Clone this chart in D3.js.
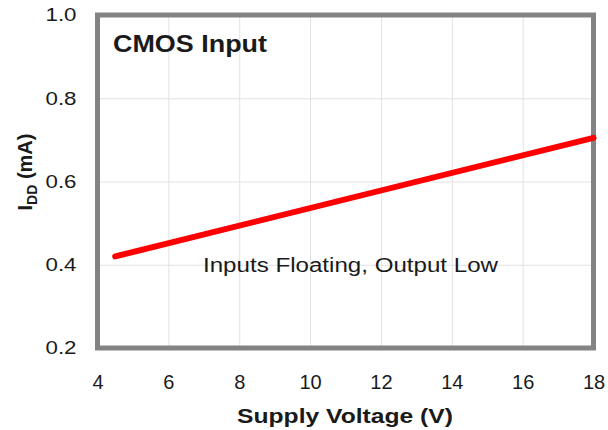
<!DOCTYPE html>
<html>
<head>
<meta charset="utf-8">
<script src="https://cdn.jsdelivr.net/npm/d3@7"></script>
<style>
  body { margin: 0; background: #fff; }
  text { font-family: "Liberation Sans", Arial, sans-serif; fill: #1a1a1a; }
</style>
</head>
<body>
<svg id="chart" width="608" height="430"></svg>
<script>
// supply voltage (V) vs IDD (mA)
const voltage = [4.5, 18];
const idd = [0.42, 0.705];
const xTicks = [4, 6, 8, 10, 12, 14, 16, 18];
const yTicks = [0.2, 0.4, 0.6, 0.8, 1.0];

const svg = d3.select("#chart");
const margin = {left: 97.5, right: 14.5, top: 15, bottom: 82};
const width = 608 - margin.left - margin.right;
const height = 430 - margin.top - margin.bottom;

const x = d3.scaleLinear().domain([4, 18]).range([0, width]);
const y = d3.scaleLinear().domain([0.2, 1.0]).range([height, 0]);

const g = svg.append("g").attr("transform", `translate(${margin.left},${margin.top})`);

// grid
g.append("g")
    .attr("class", "grid")
    .call(d3.axisBottom(x).tickValues(xTicks).tickSize(height).tickFormat(""))
    .call(s => s.select(".domain").remove())
    .selectAll("line").attr("stroke", "#e2e2e2").attr("stroke-width", 1);
g.append("g")
    .attr("class", "grid")
    .call(d3.axisLeft(y).tickValues(yTicks).tickSize(-width).tickFormat(""))
    .call(s => s.select(".domain").remove())
    .selectAll("line").attr("stroke", "#e2e2e2").attr("stroke-width", 1);

// tick labels
g.append("g")
    .attr("transform", `translate(0,${height})`)
    .call(d3.axisBottom(x).tickValues(xTicks).tickSize(0).tickPadding(27).tickFormat(d3.format("d")))
    .call(s => s.select(".domain").remove())
    .selectAll("text").style("font-size", "20px").attr("fill", "#1a1a1a");
g.append("g")
    .call(d3.axisLeft(y).tickValues(yTicks).tickSize(0).tickPadding(21).tickFormat(d3.format(".1f")))
    .call(s => s.select(".domain").remove())
    .selectAll("text")
    .style("font-size", "18.5px")
    .attr("textLength", 31).attr("lengthAdjust", "spacingAndGlyphs")
    .attr("fill", "#1a1a1a");

// frame
g.append("rect")
    .attr("x", 0).attr("y", 0)
    .attr("width", width).attr("height", height)
    .attr("fill", "none")
    .attr("stroke", "#838383")
    .attr("stroke-width", 5);

// data line
const line = d3.line().x((d, i) => x(voltage[i])).y(d => y(d));
g.append("path")
    .datum(idd)
    .attr("d", line)
    .attr("fill", "none")
    .attr("stroke", "#ff0000")
    .attr("stroke-width", 6)
    .attr("stroke-linecap", "round");

// labels
g.append("text")
    .attr("x", 15.5).attr("y", 36.7)
    .attr("textLength", 154).attr("lengthAdjust", "spacingAndGlyphs")
    .style("font-size", "23px").style("font-weight", "bold")
    .text("CMOS Input");

g.append("text")
    .attr("x", 105.5).attr("y", 256.7)
    .attr("textLength", 295).attr("lengthAdjust", "spacingAndGlyphs")
    .style("font-size", "20px")
    .text("Inputs Floating, Output Low");

svg.append("text")
    .attr("x", 237).attr("y", 423)
    .attr("textLength", 216).attr("lengthAdjust", "spacingAndGlyphs")
    .style("font-size", "20px").style("font-weight", "bold")
    .text("Supply Voltage (V)");

const yt = svg.append("text")
    .attr("transform", "translate(32,172) rotate(-90)")
    .attr("text-anchor", "middle")
    .style("font-size", "20px").style("font-weight", "bold");
yt.append("tspan").text("I");
yt.append("tspan").attr("dy", 5).style("font-size", "14px").text("DD");
yt.append("tspan").attr("dy", -5).text(" (mA)");
</script>
</body>
</html>
